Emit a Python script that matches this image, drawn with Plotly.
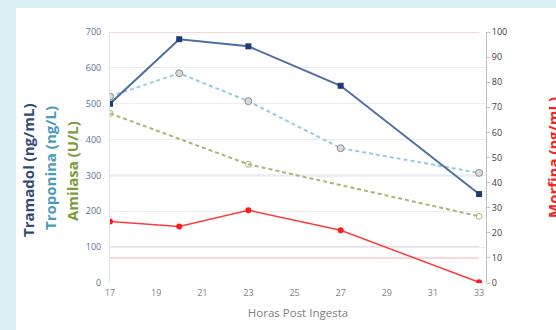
import plotly.graph_objects as go

horas = [17, 20, 23, 27, 33]
tramadol = [500, 680, 660, 550, 248]
troponina = [520, 585, 507, 376, 307]
amilasa_horas = [17, 23, 33]
amilasa = [473, 331, 186]
morfina = [24.5, 22.5, 29, 21, 0.3]

x_ticks = [17, 19, 21, 23, 25, 27, 29, 31, 33]
left_ticks = [0, 100, 200, 300, 400, 500, 600, 700]
right_ticks = [0, 10, 20, 30, 40, 50, 60, 70, 80, 90, 100]
tramadol_ref = [100, 300]
morfina_ref = [10, 100]

W, H = 556, 330
ml, mr, mt, mb = 110, 70, 32, 47
pw, ph = W - ml - mr, H - mt - mb

def px(xp):
    return (xp - ml) / pw

def py(yp):
    return (H - mb - yp) / ph

fig = go.Figure()

shapes = [dict(type="rect", xref="paper", yref="paper", x0=px(16), x1=px(W + 5),
               y0=py(8), y1=py(H + 5), fillcolor="white", line_width=0, layer="below")]
for v in tramadol_ref:
    shapes.append(dict(type="line", xref="x", yref="y", x0=17, x1=33, y0=v, y1=v,
                       line=dict(color="#b9c6dc", width=1.5), layer="below"))
for v in morfina_ref:
    shapes.append(dict(type="line", xref="x", yref="y2", x0=17, x1=33, y0=v, y1=v,
                       line=dict(color="#f6cccc", width=1.5), layer="below"))

fig.add_trace(go.Scatter(x=amilasa_horas, y=amilasa, mode="lines+markers", name="Amilasa",
                         line=dict(color="#a7b873", width=2, dash="4px,3px"),
                         marker=dict(symbol="circle-open", size=6, color="#a7b873", line=dict(width=1))))
fig.add_trace(go.Scatter(x=horas, y=troponina, mode="lines+markers", name="Troponina",
                         line=dict(color="#93cfe4", width=2, dash="4px,3px"),
                         marker=dict(symbol="circle", size=7, color="#d9d9d9",
                                     line=dict(color="#8c8c8c", width=1))))
fig.add_trace(go.Scatter(x=horas, y=tramadol, mode="lines+markers", name="Tramadol",
                         line=dict(color="#4c6ea4", width=2),
                         marker=dict(symbol="square", size=6, color="#1f3d73")))
fig.add_trace(go.Scatter(x=horas, y=morfina, mode="lines+markers", name="Morfina", yaxis="y2",
                         line=dict(color="#ff3b3b", width=1.5),
                         marker=dict(symbol="circle", size=6, color="#ff1a1a")))

def vlabel(text, xp, yp, color):
    return dict(text="<b>" + text + "</b>", xref="paper", yref="paper", x=px(xp), y=py(yp),
                xanchor="center", yanchor="middle", textangle=-90, showarrow=False,
                font=dict(family="Open Sans", size=15, color=color))

annotations = [
    vlabel("Tramadol (ng/mL)", 28, 170, "#2f4b7c"),
    vlabel("Troponina (ng/L)", 50, 168, "#4d9bb8"),
    vlabel("Amilasa (U/L)", 72, 171, "#7d9b3c"),
    vlabel("Morfina (pg/mL)", 553, 158, "#ff2020"),
]

fig.update_layout(
    width=W, height=H,
    margin=dict(l=ml, r=mr, t=mt, b=mb),
    paper_bgcolor="#daeff2", plot_bgcolor="white",
    showlegend=False,
    shapes=shapes, annotations=annotations,
    xaxis=dict(range=[17, 33.3], tickvals=x_ticks, ticktext=[str(t) for t in x_ticks],
               showgrid=False, zeroline=False, showline=False,
               tickfont=dict(family="Open Sans", size=9, color="#7f7f7f"), ticks="",
               ticklabelstandoff=3,
               title=dict(text="Horas Post Ingesta", standoff=10,
                          font=dict(family="Open Sans", size=11.5, color="#7f7f7f"))),
    yaxis=dict(range=[0, 700], tickvals=left_ticks, showgrid=True, gridcolor="#ececec",
               zeroline=False, showline=True, linecolor="#e3e3e3", linewidth=1, ticks="",
               ticklabelstandoff=6,
               tickfont=dict(family="Open Sans", size=9, color="#5b6f93")),
    yaxis2=dict(range=[0, 100], tickvals=right_ticks, overlaying="y", side="right",
                showgrid=False, zeroline=False, showline=True, linecolor="#bfbfbf",
                ticks="outside", ticklen=3, tickcolor="#bfbfbf",
                tickfont=dict(family="Open Sans", size=9, color="#404040")),
)

fig.write_html("out.html", config={"displayModeBar": False},
               post_script="document.body.style.margin='0px';document.body.style.overflow='hidden';")
